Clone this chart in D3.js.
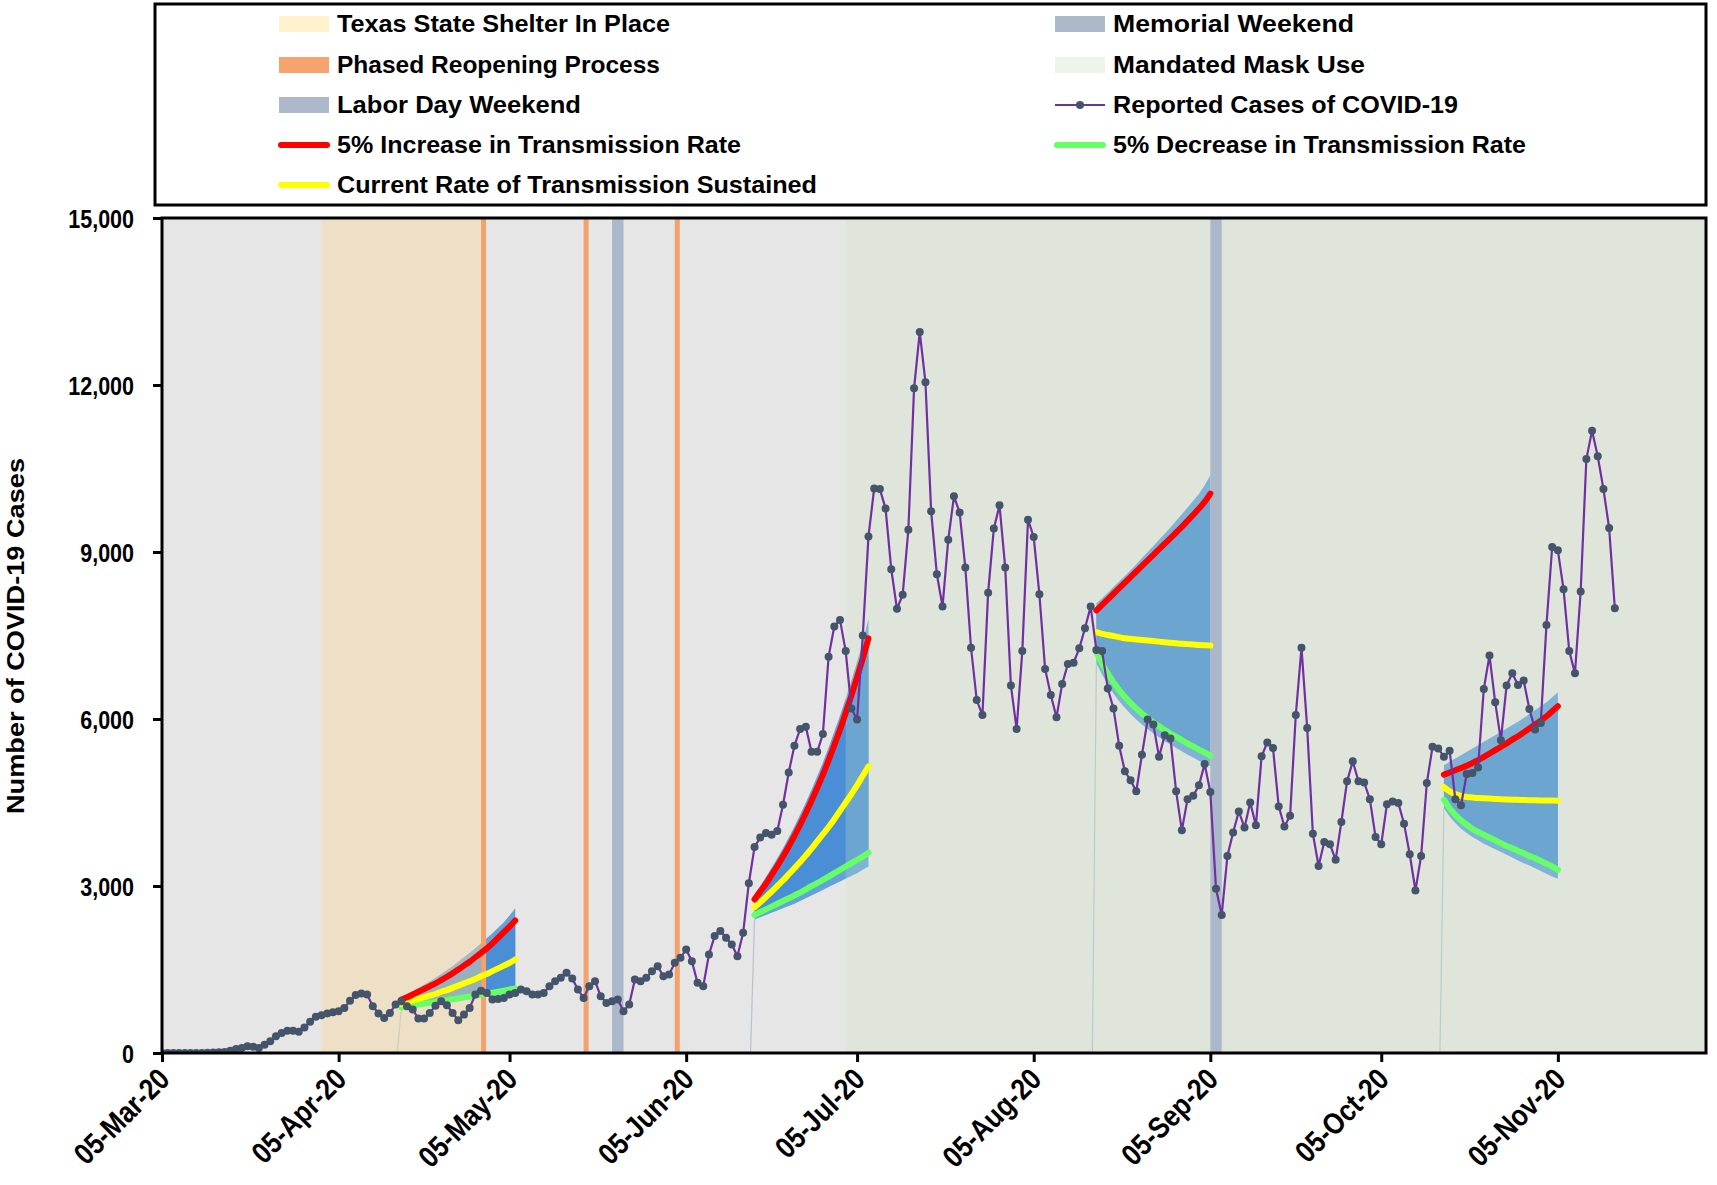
<!DOCTYPE html>
<html><head><meta charset="utf-8">
<script src="https://cdn.jsdelivr.net/npm/d3@7"></script>
<style>body{margin:0;background:#fff}svg{display:block}</style>
</head><body>
<svg id="chart" width="1717" height="1185"></svg>
<script>
// ---------------- DATA ----------------
const caseStart = "2020-03-05";
const reportedCases = [
0,0,0,0,0,0,0,2,5,8,
12,20,42,72,90,120,114,90,150,210,
300,360,400,400,380,460,560,650,680,710,
730,750,810,940,1040,1070,1050,840,710,630,
720,870,930,840,780,620,620,720,850,930,
860,720,590,690,810,1050,1120,1080,960,970,
990,1050,1080,1140,1110,1050,1050,1080,1200,1290,
1350,1440,1340,1140,990,1200,1290,1020,900,930,
960,750,870,1320,1290,1350,1470,1560,1380,1410,
1620,1710,1860,1650,1260,1200,1770,2100,2190,2070,
1950,1740,2160,3050,3700,3870,3950,3920,3990,4460,
5040,5520,5820,5860,5410,5410,5730,7120,7660,7780,
7220,6190,5990,7500,9280,10140,10130,9780,8690,7980,
8230,9400,11940,12950,12050,9730,8600,8020,9220,10000,
9710,8720,7280,6340,6070,8270,9420,9840,8720,6600,
5820,7220,9580,9270,8240,6900,6430,6030,6630,6990,
7010,7270,7630,8020,7240,7220,6550,6190,5520,5060,
4900,4700,5360,5990,5900,5320,5710,5650,4700,4000,
4560,4620,4810,5190,4690,2950,2480,3540,3960,4340,
4050,4500,4090,5330,5580,5480,4430,4070,4260,6070,
7280,5840,3940,3360,3790,3750,3470,4150,4880,5240,
4880,4860,4560,3880,3750,4470,4520,4490,4120,3570,
2920,3540,4850,5500,5470,5320,5430,4560,4450,5010,
5030,5130,6540,7140,6300,5620,6600,6820,6610,6690,
6180,5810,5930,7690,9090,9030,8330,7220,6820,8290,
10670,11180,10720,10130,9430,7990
];

const projectionStarts = ["2020-04-16","2020-06-17","2020-08-16","2020-10-16"];

const increase5 = [
 [960,1000,1050,1100,1150,1200,1250,1310,1370,1430,1500,1570,1640,1720,1800,1880,1970,2070,2170,2270,2380],
 [2760,2900,3040,3200,3360,3530,3710,3900,4100,4310,4530,4760,5000,5260,5530,5810,6110,6420,6750,7090,7450],
 [7950,8050,8150,8250,8350,8450,8550,8650,8750,8850,8950,9050,9150,9250,9350,9450,9560,9670,9780,9900,10050],
 [5000,5040,5080,5120,5160,5210,5260,5320,5380,5440,5500,5560,5630,5690,5760,5830,5900,5970,6050,6140,6230]
];
const sustained = [
 [880,910,940,970,1000,1030,1060,1100,1130,1170,1210,1250,1290,1330,1380,1420,1470,1520,1570,1620,1680],
 [2620,2710,2800,2900,3000,3100,3210,3320,3430,3550,3670,3800,3930,4060,4200,4350,4500,4650,4810,4980,5150],
 [7560,7530,7510,7490,7470,7450,7440,7430,7420,7410,7400,7390,7380,7370,7360,7350,7345,7340,7330,7325,7320],
 [4780,4700,4650,4620,4600,4590,4580,4575,4570,4565,4560,4555,4550,4548,4545,4542,4540,4538,4536,4534,4530]
];
const decrease5 = [
 [820,835,850,870,885,900,915,930,950,965,980,1000,1015,1030,1050,1065,1085,1100,1120,1140,1160],
 [2480,2530,2580,2630,2680,2730,2780,2830,2880,2940,3000,3050,3110,3170,3230,3290,3350,3410,3470,3530,3600],
 [7200,7000,6820,6660,6520,6400,6290,6190,6100,6020,5940,5870,5800,5740,5680,5620,5560,5510,5450,5400,5340],
 [4550,4400,4280,4180,4100,4030,3970,3920,3870,3820,3770,3720,3680,3630,3590,3540,3500,3450,3400,3350,3290]
];
const bandUpper = [
 [1000,1050,1110,1170,1230,1290,1350,1420,1490,1560,1640,1720,1800,1880,1970,2060,2150,2250,2350,2470,2600],
 [2850,3000,3160,3330,3500,3680,3870,4070,4280,4500,4730,4970,5220,5490,5770,6060,6370,6690,7030,7380,7800],
 [8080,8170,8270,8370,8470,8570,8670,8780,8890,9000,9110,9220,9330,9440,9560,9680,9800,9920,10040,10200,10380],
 [5170,5230,5290,5350,5410,5470,5530,5590,5650,5710,5770,5830,5890,5950,6020,6090,6160,6230,6300,6390,6480]
];
const bandLower = [
 [790,800,815,830,845,860,875,890,905,920,935,950,965,980,995,1010,1025,1040,1060,1080,1100],
 [2400,2440,2480,2520,2560,2600,2640,2680,2730,2780,2830,2880,2930,2980,3030,3080,3130,3180,3230,3290,3350],
 [7000,6800,6620,6460,6320,6200,6090,5990,5900,5820,5740,5670,5600,5540,5480,5420,5360,5310,5250,5200,5150],
 [4400,4250,4130,4030,3950,3880,3820,3760,3710,3660,3610,3560,3510,3460,3410,3370,3320,3270,3220,3170,3130]
];

const shelterPeriod = ["2020-04-02","2020-04-30"];
const reopeningDates = ["2020-04-30","2020-05-18","2020-06-03"];
const memorialWeekend = ["2020-05-23","2020-05-25"];
const laborDayWeekend = ["2020-09-05","2020-09-07"];
const maskStart = "2020-07-03";
const xDomain = ["2020-03-05","2020-12-01"];
const xTickDates = ["2020-03-05","2020-04-05","2020-05-05","2020-06-05","2020-07-05","2020-08-05","2020-09-05","2020-10-05","2020-11-05"];
const xTickLabels = ["05-Mar-20","05-Apr-20","05-May-20","05-Jun-20","05-Jul-20","05-Aug-20","05-Sep-20","05-Oct-20","05-Nov-20"];
const yTicks = [0,3000,6000,9000,12000,15000];
const yTitle = "Number of COVID-19 Cases";

const legendLeft = [
 {label:"Texas State Shelter In Place", type:"rect", color:"#fff2cc", w:333},
 {label:"Phased Reopening Process", type:"rect", color:"#f4a46c", w:323},
 {label:"Labor Day Weekend", type:"rect", color:"#adb9ca", w:244},
 {label:"5% Increase in Transmission Rate", type:"line", color:"#ff0000", w:404},
 {label:"Current Rate of Transmission Sustained", type:"line", color:"#ffff00", w:480}
];
const legendRight = [
 {label:"Memorial Weekend", type:"rect", color:"#adb9ca", w:241},
 {label:"Mandated Mask Use", type:"rect", color:"#eef4ea", w:252},
 {label:"Reported Cases of COVID-19", type:"marker", color:"#7030a0", w:345},
 {label:"5% Decrease in Transmission Rate", type:"line", color:"#66ff66", w:413}
];

// ---------------- CHART ----------------
const parse = d3.utcParse("%Y-%m-%d");
const day = (s, k) => d3.utcDay.offset(parse(s), k);
const svg = d3.select("#chart");
const L = 162, R = 1706, T = 218, B = 1053;
const x = d3.scaleUtc().domain(xDomain.map(parse)).range([L, R]);
const y = d3.scaleLinear().domain([0, 15000]).range([B, T]);
const FONT = "'Liberation Sans', Arial, sans-serif";

const defs = svg.append("defs");
defs.append("clipPath").attr("id","plotclip").append("rect")
  .attr("x",L).attr("y",T).attr("width",R-L).attr("height",B-T);

const g = svg.append("g").attr("clip-path","url(#plotclip)");
g.append("rect").attr("x",L).attr("y",T).attr("width",R-L).attr("height",B-T).attr("fill","#e7e6e6");

// projection bands
projectionStarts.forEach((s, p) => {
  const idx = d3.range(bandUpper[p].length);
  const outer = d3.area().x(i => x(day(s,i))).y0(i => y(bandLower[p][i])).y1(i => y(bandUpper[p][i]));
  const inner = d3.area().x(i => x(day(s,i))).y0(i => y(decrease5[p][i])).y1(i => y(increase5[p][i]));
  g.append("path").attr("d", outer(idx)).attr("fill","#64a2dc");
  g.append("path").attr("d", inner(idx)).attr("fill","#4a8fd6");
  g.append("line").attr("x1", x(day(s,0)) - 4).attr("y1", y(0))
    .attr("x2", x(day(s,0))).attr("y2", y(bandLower[p][0]))
    .attr("stroke","#9db6c9").attr("stroke-width",1.2).attr("opacity",0.7);
});

// period overlays
g.append("rect").attr("x", x(parse(shelterPeriod[0]))).attr("y",T)
  .attr("width", x(parse(shelterPeriod[1])) - x(parse(shelterPeriod[0]))).attr("height",B-T)
  .attr("fill","#f5d9a0").attr("opacity",0.45);
g.append("rect").attr("x", x(parse(maskStart))).attr("y",T)
  .attr("width", R - x(parse(maskStart))).attr("height",B-T)
  .attr("fill","#cce3c0").attr("opacity",0.26);

reopeningDates.forEach(s => {
  g.append("rect").attr("x", x(parse(s))).attr("y",T).attr("width",5).attr("height",B-T).attr("fill","#f2a26a");
});
[memorialWeekend, laborDayWeekend].forEach(w => {
  g.append("rect").attr("x", x(parse(w[0]))).attr("y",T)
    .attr("width", x(parse(w[1])) - x(parse(w[0]))).attr("height",B-T).attr("fill","#abb8ca");
});

// projection lines
const projLine = (s, arr) => d3.line().x((v,i) => x(day(s,i))).y(v => y(v)).curve(d3.curveMonotoneX)(arr);
projectionStarts.forEach((s, p) => {
  [[decrease5,"#66ff66"],[sustained,"#ffff00"],[increase5,"#ff0000"]].forEach(([arr,c]) => {
    g.append("path").attr("d", projLine(s, arr[p])).attr("fill","none").attr("stroke",c)
      .attr("stroke-width",6).attr("stroke-linecap","round");
  });
});

// reported cases
const caseLine = d3.line().x((v,i) => x(day(caseStart,i))).y(v => y(v));
g.append("path").attr("d", caseLine(reportedCases)).attr("fill","none")
  .attr("stroke","#7030a0").attr("stroke-width",2.2);
g.selectAll("circle.case").data(reportedCases).join("circle").attr("class","case")
  .attr("cx",(v,i) => x(day(caseStart,i))).attr("cy", v => y(v)).attr("r",4).attr("fill","#44546a");

// frame
svg.append("rect").attr("x",L).attr("y",T).attr("width",R-L).attr("height",B-T)
  .attr("fill","none").attr("stroke","#000").attr("stroke-width",3);

// axes
const yAxis = svg.append("g").attr("transform",`translate(${L},0)`)
  .call(d3.axisLeft(y).tickValues(yTicks).tickFormat(d3.format(",")).tickSize(9).tickPadding(19));
yAxis.select(".domain").remove();
yAxis.selectAll("line").attr("stroke","#000").attr("stroke-width",3);
yAxis.selectAll("text").attr("font-family",FONT).attr("font-size",25).attr("font-weight","bold").attr("fill","#000")
  .attr("dy","0.36em")
  .each(function(){ const w = this.getComputedTextLength(); d3.select(this).attr("textLength", w*0.86).attr("lengthAdjust","spacingAndGlyphs"); });

const xAxis = svg.append("g").attr("transform",`translate(0,${B})`)
  .call(d3.axisBottom(x).tickValues(xTickDates.map(parse)).tickFormat((d,i) => xTickLabels[i]).tickSize(9));
xAxis.select(".domain").remove();
xAxis.selectAll("line").attr("stroke","#000").attr("stroke-width",3);
xAxis.selectAll("text").attr("font-family",FONT).attr("font-size",30).attr("font-weight","bold").attr("fill","#000")
  .attr("text-anchor","end").attr("dy",null).attr("y",0)
  .attr("transform","translate(9,28) rotate(-45)")
  .each(function(){ const w = this.getComputedTextLength(); d3.select(this).attr("textLength", w*0.86).attr("lengthAdjust","spacingAndGlyphs"); });

svg.append("text").attr("transform","translate(24,636) rotate(-90)")
  .attr("text-anchor","middle").attr("font-family",FONT).attr("font-size",24).attr("font-weight","bold")
  .attr("textLength",356).attr("lengthAdjust","spacingAndGlyphs").text(yTitle);

// legend
svg.append("rect").attr("x",155).attr("y",4).attr("width",1551).attr("height",201)
  .attr("fill","#fff").attr("stroke","#000").attr("stroke-width",3);
const rowY = [24,65,105,145,185];
function drawLegend(items, sx, tx){
  items.forEach((it, i) => {
    const cy = rowY[i];
    if (it.type === "rect") {
      svg.append("rect").attr("x",sx).attr("y",cy-8).attr("width",50).attr("height",16).attr("fill",it.color);
    } else if (it.type === "line") {
      svg.append("line").attr("x1",sx+2).attr("x2",sx+48).attr("y1",cy).attr("y2",cy)
        .attr("stroke",it.color).attr("stroke-width",6).attr("stroke-linecap","round");
    } else {
      svg.append("line").attr("x1",sx).attr("x2",sx+50).attr("y1",cy).attr("y2",cy)
        .attr("stroke",it.color).attr("stroke-width",2.2);
      svg.append("circle").attr("cx",sx+25).attr("cy",cy).attr("r",4).attr("fill","#44546a");
    }
    svg.append("text").attr("x",tx).attr("y",cy+8).attr("font-family",FONT).attr("font-size",24)
      .attr("font-weight","bold").attr("textLength",it.w).attr("lengthAdjust","spacingAndGlyphs").text(it.label);
  });
}
drawLegend(legendLeft, 279, 337);
drawLegend(legendRight, 1055, 1113);
</script>
</body></html>
